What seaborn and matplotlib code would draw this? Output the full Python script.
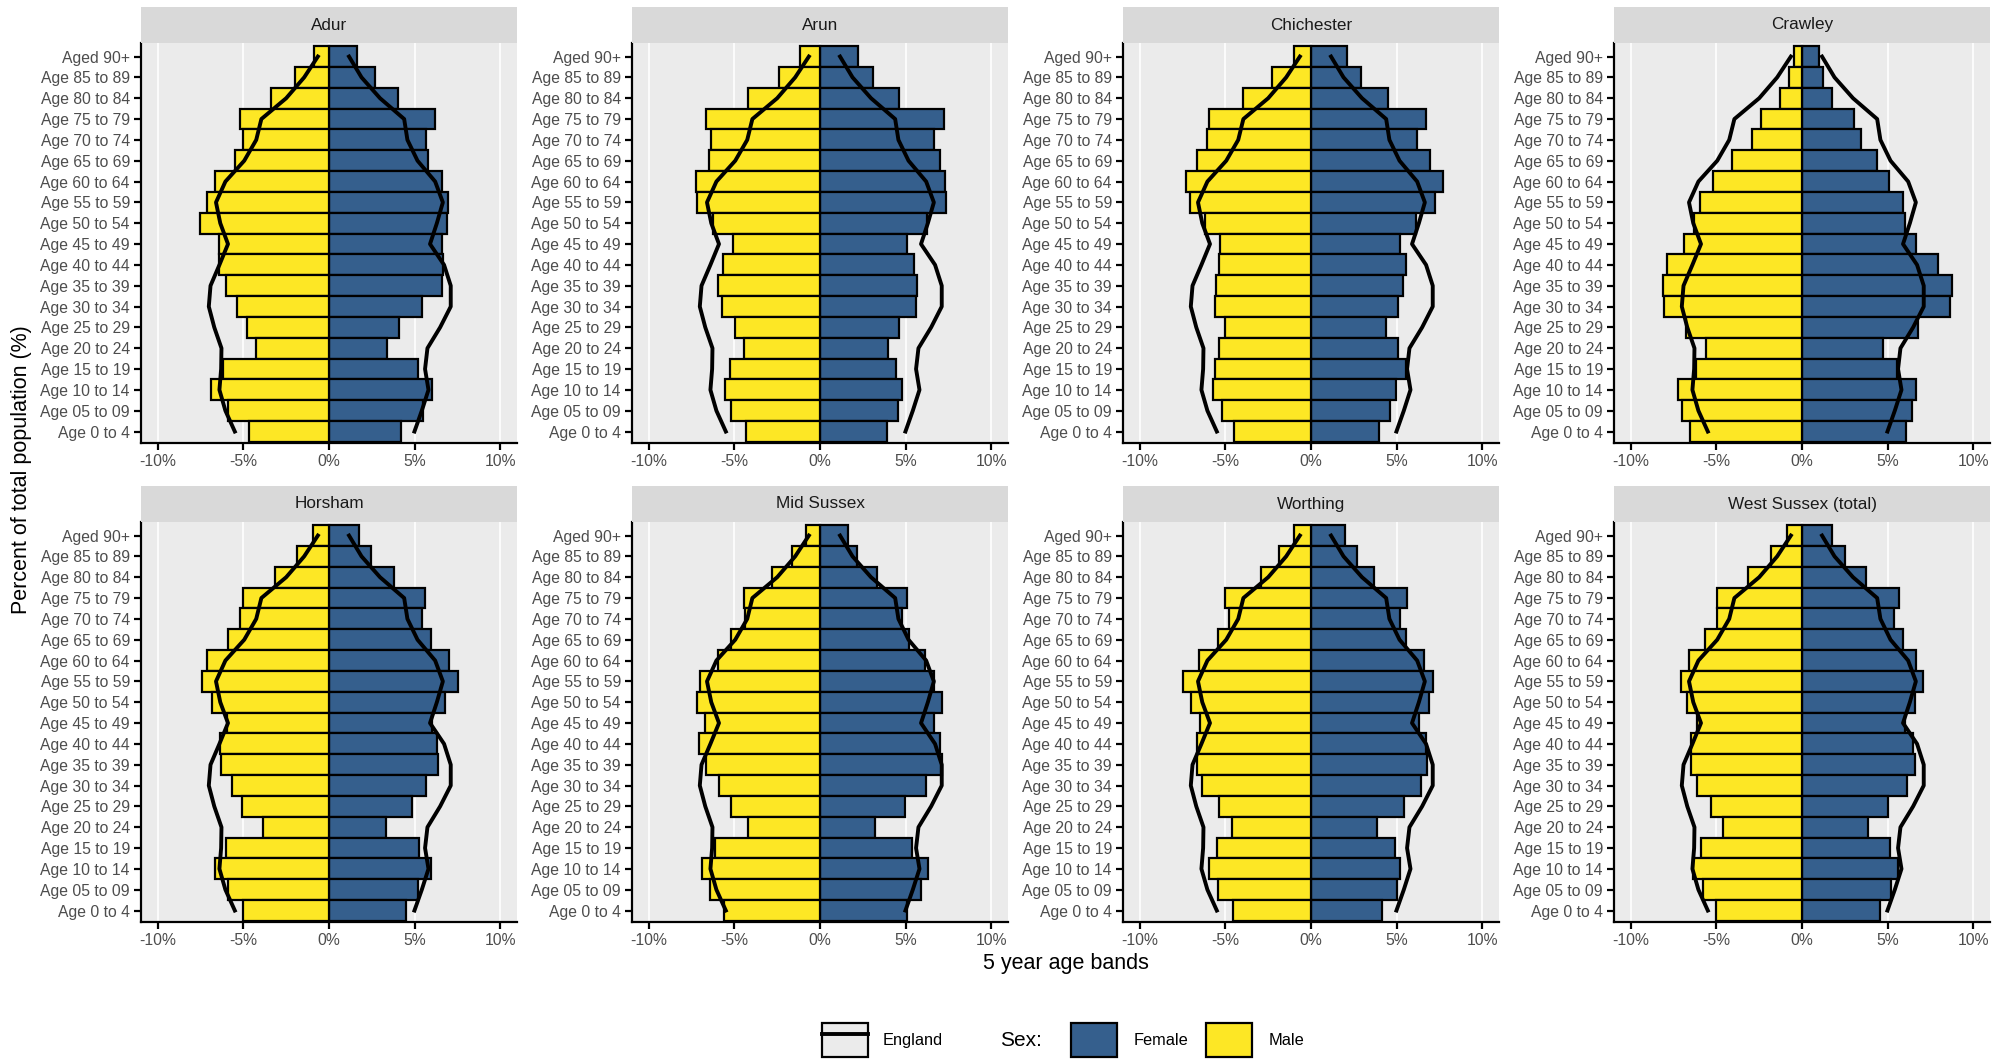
import numpy as np
import pandas as pd
import matplotlib
matplotlib.use("Agg")
import matplotlib.pyplot as plt
import seaborn as sns
from matplotlib.patches import Patch
from matplotlib.lines import Line2D
from matplotlib.legend_handler import HandlerTuple
from matplotlib.ticker import FuncFormatter

# age bands, top to bottom
ages = ["Aged 90+", "Age 85 to 89", "Age 80 to 84", "Age 75 to 79", "Age 70 to 74",
        "Age 65 to 69", "Age 60 to 64", "Age 55 to 59", "Age 50 to 54", "Age 45 to 49",
        "Age 40 to 44", "Age 35 to 39", "Age 30 to 34", "Age 25 to 29", "Age 20 to 24",
        "Age 15 to 19", "Age 10 to 14", "Age 05 to 09", "Age 0 to 4"]

areas = ["Adur", "Arun", "Chichester", "Crawley",
         "Horsham", "Mid Sussex", "Worthing", "West Sussex (total)"]

# percent of total population
adur_male = [0.86, 2.0, 3.37, 5.22, 5.0, 5.48, 6.65, 7.15, 7.54, 6.45, 6.41, 6.02, 5.38, 4.81, 4.29, 6.22, 6.88, 5.89, 4.68]
adur_female = [1.64, 2.71, 4.05, 6.22, 5.65, 5.81, 6.59, 6.96, 6.92, 6.59, 6.65, 6.61, 5.44, 4.09, 3.41, 5.17, 6.04, 5.48, 4.19]
arun_male = [1.17, 2.38, 4.19, 6.67, 6.34, 6.47, 7.25, 7.21, 6.24, 5.07, 5.65, 5.95, 5.71, 4.97, 4.44, 5.26, 5.52, 5.17, 4.35]
arun_female = [2.2, 3.08, 4.64, 7.27, 6.63, 6.98, 7.31, 7.35, 6.24, 5.11, 5.5, 5.69, 5.61, 4.62, 4.0, 4.44, 4.78, 4.58, 3.94]
chichester_male = [1.01, 2.28, 4.0, 5.93, 6.08, 6.67, 7.31, 7.06, 6.18, 5.3, 5.36, 5.56, 5.59, 5.05, 5.4, 5.63, 5.75, 5.19, 4.52]
chichester_female = [2.1, 2.94, 4.5, 6.69, 6.2, 6.94, 7.72, 7.27, 6.14, 5.22, 5.57, 5.36, 5.09, 4.39, 5.07, 5.52, 4.97, 4.64, 4.0]
crawley_male = [0.47, 0.76, 1.29, 2.4, 2.9, 4.11, 5.19, 5.93, 6.3, 6.88, 7.91, 8.11, 8.07, 6.8, 5.58, 6.2, 7.23, 6.98, 6.55]
crawley_female = [1.01, 1.25, 1.73, 3.04, 3.43, 4.37, 5.09, 5.87, 6.02, 6.67, 7.97, 8.75, 8.65, 6.8, 4.72, 5.54, 6.67, 6.41, 6.08]
horsham_male = [0.92, 1.89, 3.16, 5.05, 5.2, 5.87, 7.11, 7.43, 6.82, 5.98, 6.34, 6.28, 5.69, 5.09, 3.84, 6.02, 6.67, 5.89, 5.03]
horsham_female = [1.75, 2.44, 3.82, 5.63, 5.46, 5.95, 6.98, 7.56, 6.78, 6.04, 6.3, 6.35, 5.65, 4.85, 3.31, 5.26, 5.96, 5.22, 4.5]
mid_sussex_male = [0.84, 1.62, 2.79, 4.44, 4.39, 5.2, 5.95, 7.0, 7.21, 6.73, 7.06, 6.63, 5.91, 5.17, 4.19, 6.14, 6.9, 6.43, 5.61]
mid_sussex_female = [1.66, 2.18, 3.35, 5.07, 4.78, 5.22, 6.14, 6.67, 7.15, 6.67, 7.02, 7.15, 6.18, 4.97, 3.22, 5.36, 6.3, 5.89, 5.11]
worthing_male = [0.97, 1.89, 2.9, 5.05, 4.76, 5.44, 6.53, 7.45, 7.0, 6.51, 6.63, 6.67, 6.34, 5.4, 4.62, 5.5, 5.93, 5.46, 4.58]
worthing_female = [2.01, 2.69, 3.66, 5.61, 5.22, 5.52, 6.59, 7.11, 6.88, 6.3, 6.69, 6.78, 6.43, 5.42, 3.86, 4.93, 5.22, 5.03, 4.15]
west_sussex_male = [0.9, 1.81, 3.14, 4.99, 4.95, 5.67, 6.59, 7.04, 6.74, 6.12, 6.47, 6.47, 6.12, 5.34, 4.64, 5.87, 6.39, 5.81, 5.05]
west_sussex_female = [1.77, 2.51, 3.72, 5.67, 5.38, 5.89, 6.65, 7.04, 6.61, 6.02, 6.47, 6.61, 6.12, 5.01, 3.88, 5.15, 5.59, 5.2, 4.56]

# England comparison (same in every panel)
england_male = [0.65, 1.45, 2.5, 3.95, 4.25, 4.95, 6.05, 6.6, 6.35, 5.9, 6.4, 6.92, 7.02, 6.7, 6.28, 6.3, 6.4, 6.05, 5.5]
england_female = [1.17, 1.9, 2.98, 4.39, 4.58, 5.17, 6.2, 6.65, 6.3, 5.9, 6.72, 7.11, 7.11, 6.49, 5.75, 5.61, 5.81, 5.42, 4.99]

male = dict(zip(areas, [adur_male, arun_male, chichester_male, crawley_male,
                        horsham_male, mid_sussex_male, worthing_male, west_sussex_male]))
female = dict(zip(areas, [adur_female, arun_female, chichester_female, crawley_female,
                          horsham_female, mid_sussex_female, worthing_female, west_sussex_female]))

rows = []
for a in areas:
    for age, m, f in zip(ages, male[a], female[a]):
        rows.append((a, age, "Male", -m))
        rows.append((a, age, "Female", f))
df = pd.DataFrame(rows, columns=["area", "age", "sex", "pct"])

eng = pd.DataFrame({"pos": np.arange(len(ages)),
                    "male": -np.array(england_male),
                    "female": np.array(england_female)})

palette = {"Female": "#355F8D", "Male": "#FDE725"}

plt.rcParams["font.family"] = ["Liberation Sans", "DejaVu Sans"]

W, H = 2013, 1063
fig = plt.figure(figsize=(W / 100, H / 100), dpi=100)

lefts = [141, 632, 1123, 1614]
tops = [43, 522]
pw, ph, sh = 376, 400, 36

pct_fmt = FuncFormatter(lambda v, p: f"{int(round(v))}%")

for i, area in enumerate(areas):
    col, row = i % 4, i // 4
    x0 = lefts[col] / W
    y0 = 1 - (tops[row] + ph) / H
    ax = fig.add_axes([x0, y0, pw / W, ph / H])
    ax.set_facecolor("#EBEBEB")
    ax.set_axisbelow(True)

    sns.barplot(data=df[df["area"] == area], x="pct", y="age", hue="sex",
                order=ages, hue_order=["Female", "Male"], palette=palette,
                saturation=1, dodge=False, width=1, edgecolor="black", linewidth=1.6,
                orient="h", errorbar=None, legend=False, ax=ax)
    sns.lineplot(data=eng, x="male", y="pos", orient="y", sort=False,
                 estimator=None, color="black", linewidth=2.8, ax=ax)
    sns.lineplot(data=eng, x="female", y="pos", orient="y", sort=False,
                 estimator=None, color="black", linewidth=2.8, ax=ax)

    ax.set_xlim(-10.98, 10.98)
    ax.set_ylim(len(ages) - 0.45, -0.65)
    ax.set_xticks([-10, -5, 0, 5, 10])
    ax.xaxis.set_major_formatter(pct_fmt)
    ax.set_yticks(range(len(ages)))
    ax.set_yticklabels(ages)
    ax.xaxis.grid(True, color="white", linewidth=1.2)
    ax.yaxis.grid(False)
    ax.set_xlabel("")
    ax.set_ylabel("")
    for s in ["top", "right"]:
        ax.spines[s].set_visible(False)
    for s in ["left", "bottom"]:
        ax.spines[s].set_color("black")
        ax.spines[s].set_linewidth(1.6)
    ax.tick_params(axis="both", length=5, width=1.6, color="black",
                   labelcolor="#4D4D4D", labelsize=11.3, pad=3)

    # facet strip
    sax = fig.add_axes([x0, 1 - tops[row] / H, pw / W, sh / H])
    sax.set_facecolor("#D9D9D9")
    sax.set_xticks([])
    sax.set_yticks([])
    for s in sax.spines.values():
        s.set_visible(False)
    sax.text(0.5, 0.5, area, ha="center", va="center", fontsize=12.3,
             color="#1A1A1A", transform=sax.transAxes)

fig.text(1066 / W, 1 - 963 / H, "5 year age bands", ha="center", va="center", fontsize=15.5)
fig.text(22 / W, 1 - 470 / H, "Percent of total population (%)", rotation=90,
         ha="center", va="center", fontsize=15.5)

# legends
ly = 1 - 1040 / H
eng_handle = (Patch(facecolor="#EBEBEB", edgecolor="black", linewidth=1.6),
              Line2D([], [], color="black", linewidth=2.8))
fig.legend([eng_handle], ["England"], loc="center left", bbox_to_anchor=(822 / W, ly),
           handler_map={tuple: HandlerTuple(ndivide=1)}, frameon=False,
           handlelength=2.8, handleheight=2.8, handletextpad=0.9,
           fontsize=11.8, borderpad=0, borderaxespad=0)
sex_handles = [Patch(facecolor=palette["Female"], edgecolor="black", linewidth=1.6),
               Patch(facecolor=palette["Male"], edgecolor="black", linewidth=1.6)]
fig.legend(sex_handles, ["Female", "Male"], ncol=2, loc="center left",
           bbox_to_anchor=(1071 / W, ly), frameon=False,
           handlelength=2.8, handleheight=2.8, handletextpad=1.0, columnspacing=1.1,
           fontsize=11.8, borderpad=0, borderaxespad=0)
fig.text(1000 / W, ly, "Sex:", ha="left", va="center", fontsize=15)

fig.savefig("out.png", dpi=100)
